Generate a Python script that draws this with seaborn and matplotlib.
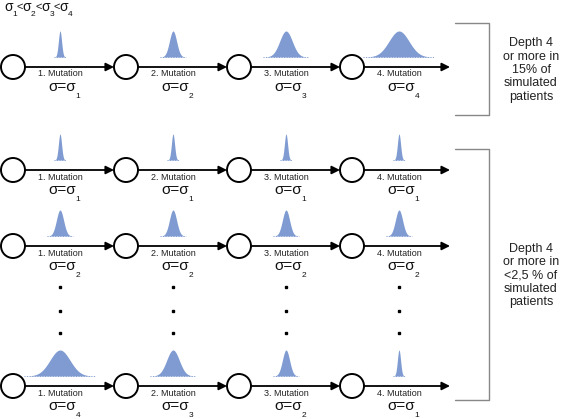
import numpy as np
import seaborn as sns
import matplotlib.pyplot as plt
from matplotlib.patches import Circle

sns.set_style("white")
plt.rcParams['font.family'] = ['Liberation Sans', 'DejaVu Sans']

# sigma index for each mutation step in every row (1..4)
row_sigmas = [
    [1, 2, 3, 4],
    [1, 1, 1, 1],
    [2, 2, 2, 2],
    [4, 3, 2, 1],
]
# relative width of the distribution for sigma 1..4
sigma_width = [1.6, 3.6, 6.3, 10.0]
step_labels = ['1. Mutation', '2. Mutation', '3. Mutation', '4. Mutation']
bracket_texts = [
    'Depth 4\nor more in\n15% of\nsimulated\npatients',
    'Depth 4\nor more in\n<2,5 % of\nsimulated\npatients',
]

# layout (pixels)
W, H = 566, 419
row_y = [67, 170, 246, 386]
node_x = [13, 126, 239, 352]
arrow_end = 450
r = 12
peak_h = 26
blue = '#7f9bd2'

fig = plt.figure(figsize=(W / 100, H / 100), dpi=100)
ax = fig.add_axes([0, 0, 1, 1])
ax.set_xlim(0, W)
ax.set_ylim(H, 0)
ax.axis('off')

for y, sig in zip(row_y, row_sigmas):
    for i, cx in enumerate(node_x):
        ax.add_patch(Circle((cx, y), r, fill=False, ec='black', lw=1.4, zorder=3))
        x_end = node_x[i + 1] - r if i < 3 else arrow_end
        ax.annotate('', xy=(x_end, y), xytext=(cx + r, y),
                    arrowprops=dict(arrowstyle='-|>', color='black', lw=1.3,
                                    mutation_scale=12, shrinkA=0, shrinkB=0))
        gx = cx + 47
        s = sigma_width[sig[i] - 1]
        xs = np.linspace(gx - 3.6 * s, gx + 3.6 * s, 200)
        dens = np.exp(-0.5 * ((xs - gx) / s) ** 2)
        base = y - 10
        ax.fill_between(xs, base, base - peak_h * dens, color=blue, lw=0)
        ax.plot([gx - 3.6 * s, gx + 3.6 * s], [base, base], ls=':', color=blue, lw=0.7)
        ax.text(gx, y + 7, step_labels[i], ha='center', va='center', fontsize=6.5, color='#222222')
        ax.text(gx + 16, y + 20, 'σ=σ', ha='right', va='center', fontsize=11, color='#111111')
        ax.text(gx + 15.5, y + 29, str(sig[i]), ha='left', va='center', fontsize=6, color='#111111')

# dots between row 3 and the last row
for i, cx in enumerate(node_x):
    for dy in [287, 311, 333]:
        ax.plot(cx + 47, dy, marker='s', ms=1.6, color='black')

# sigma ordering at the top left
for k in range(4):
    x0 = 4 + 18.5 * k
    ax.text(x0, 7, 'σ', ha='left', va='center', fontsize=10, color='#111111')
    ax.text(x0 + 8.5, 14, str(k + 1), ha='left', va='center', fontsize=6, color='#111111')
    if k < 3:
        ax.text(x0 + 12.5, 7, '<', ha='left', va='center', fontsize=8, color='#111111')

# brackets with the result texts
for (top, bot), txt in zip([(23, 115), (149, 400)], bracket_texts):
    ax.plot([455, 489, 489, 455], [top, top, bot, bot], color='#888888', lw=1)
    ax.text(531, (top + bot) / 2 + 1, txt, ha='center', va='center', fontsize=9,
            linespacing=1.15, color='#222222')

fig.savefig('out.png', dpi=100)
